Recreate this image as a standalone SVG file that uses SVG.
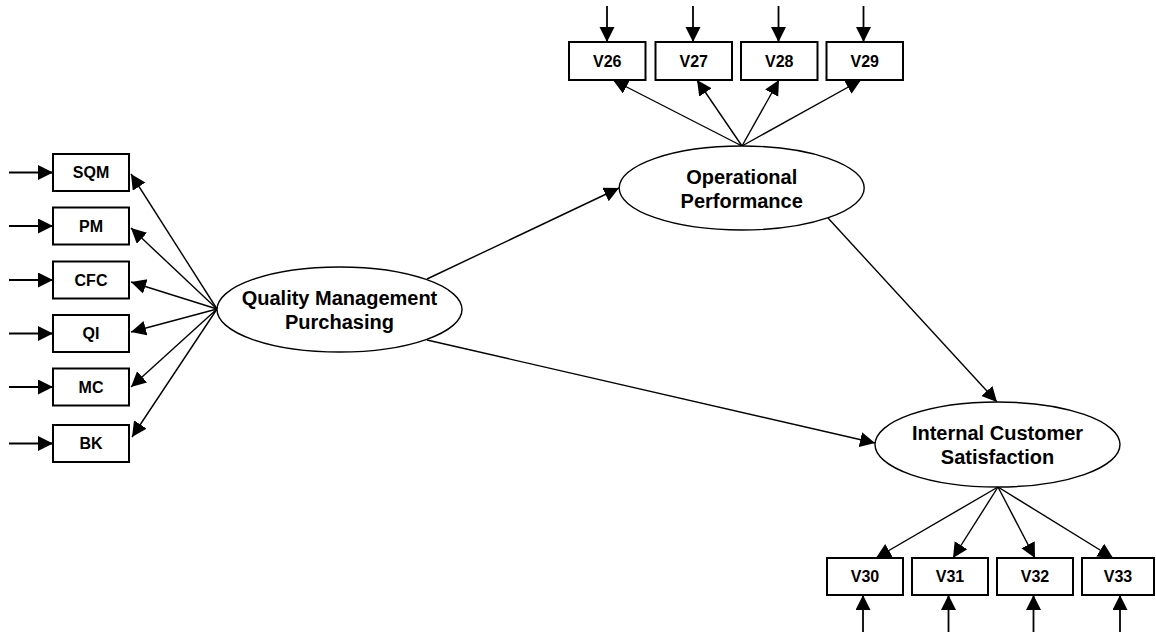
<svg xmlns="http://www.w3.org/2000/svg" width="1156" height="632" viewBox="0 0 1156 632">
<style>
.box{fill:#fff;stroke:#000;stroke-width:2}
.ell{fill:#fff;stroke:#000;stroke-width:1.4}
.bl{font-family:"Liberation Sans",Arial,sans-serif;font-weight:bold;font-size:16px;text-anchor:middle;fill:#000}
.el{font-family:"Liberation Sans",Arial,sans-serif;font-weight:bold;font-size:20px;text-anchor:middle;fill:#000}
.c{stroke:#000;stroke-width:1.4;fill:none;marker-end:url(#ah)}
.ci{stroke:#000;stroke-width:1.8;fill:none;marker-end:url(#ah)}
</style>
<defs>
<marker id="ah" markerUnits="userSpaceOnUse" markerWidth="16" markerHeight="16" refX="15" refY="7.5" orient="auto" viewBox="0 0 16 16">
<path d="M0,0 L15,7.5 L0,15 z" fill="#000"/>
</marker>
</defs>
<rect width="1156" height="632" fill="#fff"/>
<g id="connectors">
<line class="ci" x1="9" y1="172.5" x2="53" y2="172.5"/>
<line class="ci" x1="9" y1="226" x2="53" y2="226"/>
<line class="ci" x1="9" y1="280" x2="53" y2="280"/>
<line class="ci" x1="9" y1="333.5" x2="53" y2="333.5"/>
<line class="ci" x1="9" y1="387" x2="53" y2="387"/>
<line class="ci" x1="9" y1="443.5" x2="53" y2="443.5"/>
<line class="ci" x1="607" y1="6" x2="607" y2="42"/>
<line class="ci" x1="693" y1="6" x2="693" y2="42"/>
<line class="ci" x1="778.5" y1="6" x2="778.5" y2="42"/>
<line class="ci" x1="863.5" y1="6" x2="863.5" y2="42"/>
<line class="ci" x1="863" y1="632" x2="863" y2="595"/>
<line class="ci" x1="948.5" y1="632" x2="948.5" y2="595"/>
<line class="ci" x1="1033.5" y1="632" x2="1033.5" y2="595"/>
<line class="ci" x1="1120" y1="632" x2="1120" y2="595"/>
<line class="c" x1="217" y1="309" x2="131" y2="174"/>
<line class="c" x1="217" y1="309" x2="131" y2="228"/>
<line class="c" x1="217" y1="309" x2="131" y2="282"/>
<line class="c" x1="217" y1="309" x2="131" y2="332"/>
<line class="c" x1="217" y1="309" x2="131" y2="387"/>
<line class="c" x1="217" y1="309" x2="132" y2="437"/>
<line class="c" x1="742" y1="146" x2="613" y2="80"/>
<line class="c" x1="742" y1="146" x2="697" y2="80"/>
<line class="c" x1="742" y1="146" x2="779" y2="80"/>
<line class="c" x1="742" y1="146" x2="861" y2="80"/>
<line class="c" x1="998" y1="487" x2="876" y2="558"/>
<line class="c" x1="998" y1="487" x2="953" y2="558"/>
<line class="c" x1="998" y1="487" x2="1035" y2="558"/>
<line class="c" x1="998" y1="487" x2="1113" y2="558"/>
<line class="c" x1="427" y1="279" x2="619" y2="188"/>
<line class="c" x1="427" y1="340" x2="875" y2="443"/>
<line class="c" x1="828" y1="218" x2="997" y2="402"/>
</g>
<g id="SQM"><rect class="box" x="53" y="154" width="76" height="37"/><text class="bl" x="91" y="178.2">SQM</text></g>
<g id="PM"><rect class="box" x="53" y="207.5" width="76" height="37"/><text class="bl" x="91" y="231.7">PM</text></g>
<g id="CFC"><rect class="box" x="53" y="261.5" width="76" height="37"/><text class="bl" x="91" y="285.7">CFC</text></g>
<g id="QI"><rect class="box" x="53" y="315" width="76" height="37"/><text class="bl" x="91" y="339.2">QI</text></g>
<g id="MC"><rect class="box" x="53" y="368.5" width="76" height="37"/><text class="bl" x="91" y="392.7">MC</text></g>
<g id="BK"><rect class="box" x="53" y="425" width="76" height="37"/><text class="bl" x="91" y="449.2">BK</text></g>
<g id="V26"><rect class="box" x="569" y="42" width="76.5" height="38"/><text class="bl" x="607.2" y="66.7">V26</text></g>
<g id="V27"><rect class="box" x="655.5" y="42" width="76.5" height="38"/><text class="bl" x="693.7" y="66.7">V27</text></g>
<g id="V28"><rect class="box" x="741" y="42" width="76.5" height="38"/><text class="bl" x="779.2" y="66.7">V28</text></g>
<g id="V29"><rect class="box" x="826.5" y="42" width="76.5" height="38"/><text class="bl" x="864.7" y="66.7">V29</text></g>
<g id="V30"><rect class="box" x="827" y="558" width="76" height="37"/><text class="bl" x="865" y="582.2">V30</text></g>
<g id="V31"><rect class="box" x="912" y="558" width="76" height="37"/><text class="bl" x="950" y="582.2">V31</text></g>
<g id="V32"><rect class="box" x="997" y="558" width="76" height="37"/><text class="bl" x="1035" y="582.2">V32</text></g>
<g id="V33"><rect class="box" x="1082" y="558" width="72" height="37"/><text class="bl" x="1118" y="582.2">V33</text></g>
<g id="QMP"><ellipse class="ell" cx="339.5" cy="309.5" rx="122.5" ry="42.5"/><text class="el" x="339.5" y="305">Quality Management</text><text class="el" x="339.5" y="329">Purchasing</text></g>
<g id="OP"><ellipse class="ell" cx="741.7" cy="188" rx="122.5" ry="42"/><text class="el" x="741.7" y="184">Operational</text><text class="el" x="741.7" y="207.5">Performance</text></g>
<g id="ICS"><ellipse class="ell" cx="997.5" cy="444.5" rx="122.5" ry="42.5"/><text class="el" x="997.5" y="439.5">Internal Customer</text><text class="el" x="997.5" y="463.5">Satisfaction</text></g>
</svg>
